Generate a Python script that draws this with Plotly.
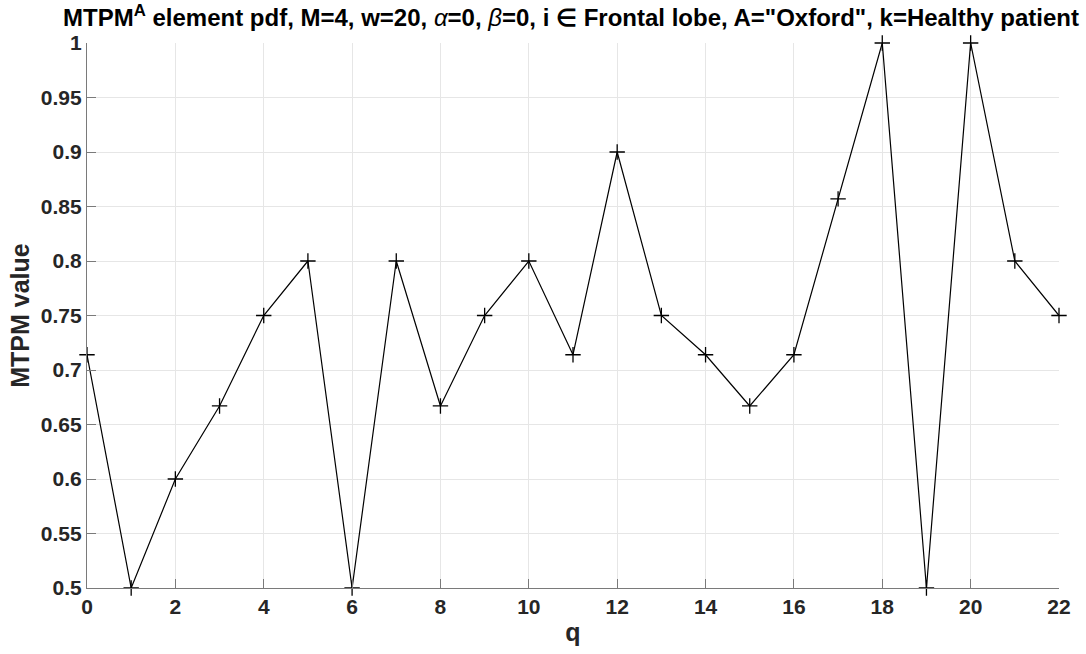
import plotly.graph_objects as go

q = list(range(23))
mtpm = [0.714, 0.5, 0.6, 0.667, 0.75, 0.8, 0.5, 0.8, 0.667, 0.75, 0.8, 0.714,
        0.9, 0.75, 0.714, 0.667, 0.714, 0.857, 1.0, 0.5, 1.0, 0.8, 0.75]
x_ticks = list(range(0, 23, 2))
y_ticks = [0.5, 0.55, 0.6, 0.65, 0.7, 0.75, 0.8, 0.85, 0.9, 0.95, 1.0]
y_ticktext = ["0.5", "0.55", "0.6", "0.65", "0.7", "0.75", "0.8", "0.85", "0.9", "0.95", "1"]

title_text = ('<b>MTPM<sup>A</sup> element pdf, M=4, w=20, </b><i>α</i><b>=0, </b><i>β</i><b>=0, '
              'i ∈ Frontal lobe, A="Oxford", k=Healthy patient</b>')

font_family = "Liberation Sans, Arial, sans-serif"

fig = go.Figure()
fig.add_trace(go.Scatter(
    x=q, y=mtpm, mode="lines+markers",
    line=dict(color="black", width=1.2),
    marker=dict(symbol="cross-thin", size=11, line=dict(color="black", width=1.3), color="black"),
    cliponaxis=False, showlegend=False,
))

axis_common = dict(
    showline=True, linecolor="#7a7a7a", linewidth=1.2,
    ticks="inside", ticklen=9, tickcolor="#7a7a7a", tickwidth=1.2,
    showgrid=True, gridcolor="#e6e6e6", gridwidth=1,
    zeroline=False, mirror=False,
    tickfont=dict(family=font_family, size=21, color="#262626", weight="bold"),
)

fig.update_layout(
    width=1086, height=654,
    margin=dict(l=87, r=27, t=43, b=64),
    paper_bgcolor="white", plot_bgcolor="white",
    font=dict(family=font_family, color="#262626"),
    title=dict(
        text=title_text,
        x=63 / 1086, xanchor="left", xref="container",
        y=1 - 18 / 654, yanchor="middle", yref="container",
        font=dict(family=font_family, size=24, color="black"),
    ),
    xaxis=dict(
        range=[0, 22], tickvals=x_ticks, ticktext=[str(v) for v in x_ticks],
        title=dict(text="<b>q</b>", font=dict(family=font_family, size=25, color="#262626"), standoff=6),
        **axis_common,
    ),
    yaxis=dict(
        range=[0.5, 1.0], tickvals=y_ticks, ticktext=y_ticktext,
        title=dict(text="<b>MTPM value</b>", font=dict(family=font_family, size=25, color="#262626"), standoff=4),
        **axis_common,
    ),
)

fig.write_html("out.html")
